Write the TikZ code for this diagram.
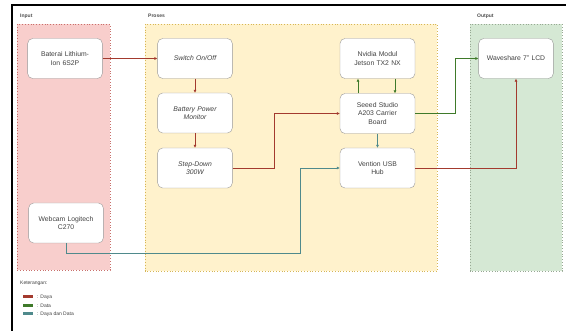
\documentclass[tikz,border=0pt]{standalone}
\usepackage{fontspec}
\setmainfont{Liberation Sans}
\usetikzlibrary{arrows.meta,calc,positioning}
\definecolor{dayacol}{HTML}{A33A2E}
\definecolor{datacol}{HTML}{3F7A2A}
\definecolor{dudcol}{HTML}{4F8A8C}
\definecolor{inpfill}{HTML}{F8CECC}
\definecolor{inpline}{HTML}{C9706C}
\definecolor{profill}{HTML}{FFF2CC}
\definecolor{proline}{HTML}{D6B656}
\definecolor{outfill}{HTML}{D5E8D4}
\definecolor{outline}{HTML}{97A893}

\begin{document}
\begin{tikzpicture}[x=1pt,y=-1pt]

\tikzset{block/.style = {shape=rectangle,draw=black!40,fill=white,rounded corners=5pt,
  minimum width=72pt,minimum height=40pt,text width=68pt,align=center,
  text=black!75,font=\fontsize{6.8}{8.2}\selectfont}}
\tikzset{daya/.style = {-{Latex[length=3pt,width=3pt]},line width=0.9pt,draw=dayacol}}
\tikzset{data/.style = {-{Latex[length=3pt,width=3pt]},line width=0.9pt,draw=datacol}}
\tikzset{dayadata/.style = {-{Latex[length=3pt,width=3pt]},line width=0.9pt,draw=dudcol}}
\tikzset{area/.style = {dotted,line width=0.8pt}}
\tikzset{arealabel/.style = {anchor=west,inner sep=0pt,font=\fontsize{5}{6}\selectfont\bfseries,text=black!70}}

\useasboundingbox (0,0) rectangle (566,331);

% frame
\draw[line width=1.3pt] (12,345) -- (12,5) -- (580,5);

% rectangle
\draw[area,fill=inpfill,draw=inpline] (17,24) rectangle (110,270);
\draw[area,fill=profill,draw=proline] (145,24) rectangle (437,271);
\draw[area,fill=outfill,draw=outline] (470,24) rectangle (562,271);
\node[arealabel] (lin) at (20,16) {Input};
\node[arealabel] (lpro) at (148,16) {Proses};
\node[arealabel] (lout) at (477,16) {Output};

% vertices
\node[block] (bat) at (65,58.5) {Baterai Lithium-\\Ion 6S2P};
\node[block] (cam) at (66,223) {Webcam Logitech\\C270};
\node[block] (sw) at (195,58.5) {\itshape Switch On/Off};
\node[block] (bpm) at (195,113) {\itshape Battery Power\\Monitor};
\node[block] (sd) at (195,168) {\itshape Step-Down\\300W};
\node[block,minimum width=75pt] (jet) at (377.5,58.5) {Nvidia Modul\\Jetson TX2 NX};
\node[block,minimum width=75pt] (seeed) at (377.5,113.5) {Seeed Studio\\A203 Carrier\\Board};
\node[block,minimum width=75pt] (hub) at (377.5,168) {Vention USB\\Hub};
\node[block] (lcd) at (516,58.5) {Waveshare 7" LCD};
\coordinate (camturn) at (300,253);

%edges
\draw[daya] (bat) -- (sw);
\draw[daya] (sw) -- (bpm);
\draw[daya] (bpm) -- (sd);
\draw[daya] (sd.east) -- ++(42,0) |- (seeed.west);
\draw[data] ([xshift=-19.5pt]seeed.north) -- ([xshift=-19.5pt]jet.south);
\draw[data] ([xshift=17.5pt]jet.south) -- ([xshift=17.5pt]seeed.north);
\draw[data] (seeed.east) -- ++(40,0) |- (lcd.west);
\draw[dayadata] (seeed) -- (hub);
\draw[daya] (hub.east) -| (lcd.south);
\draw[dayadata] (cam.south) |- (camturn) |- (hub.west);

% legend
\node[anchor=west,inner sep=0pt,font=\fontsize{5}{6}\selectfont,text=black!75] (ket) at (20,283) {Keterangan:};
\foreach \y/\c/\t in {297/dayacol/Daya, 305.5/datacol/Data, 314/dudcol/Daya dan Data}{
  \fill[\c] (23,\y-1.5) rectangle (33,\y+1.5);
  \node[anchor=west,inner sep=0pt,font=\fontsize{5}{6}\selectfont,text=black!75] at (37,\y) {: \t};
}

\end{tikzpicture}
\end{document}
